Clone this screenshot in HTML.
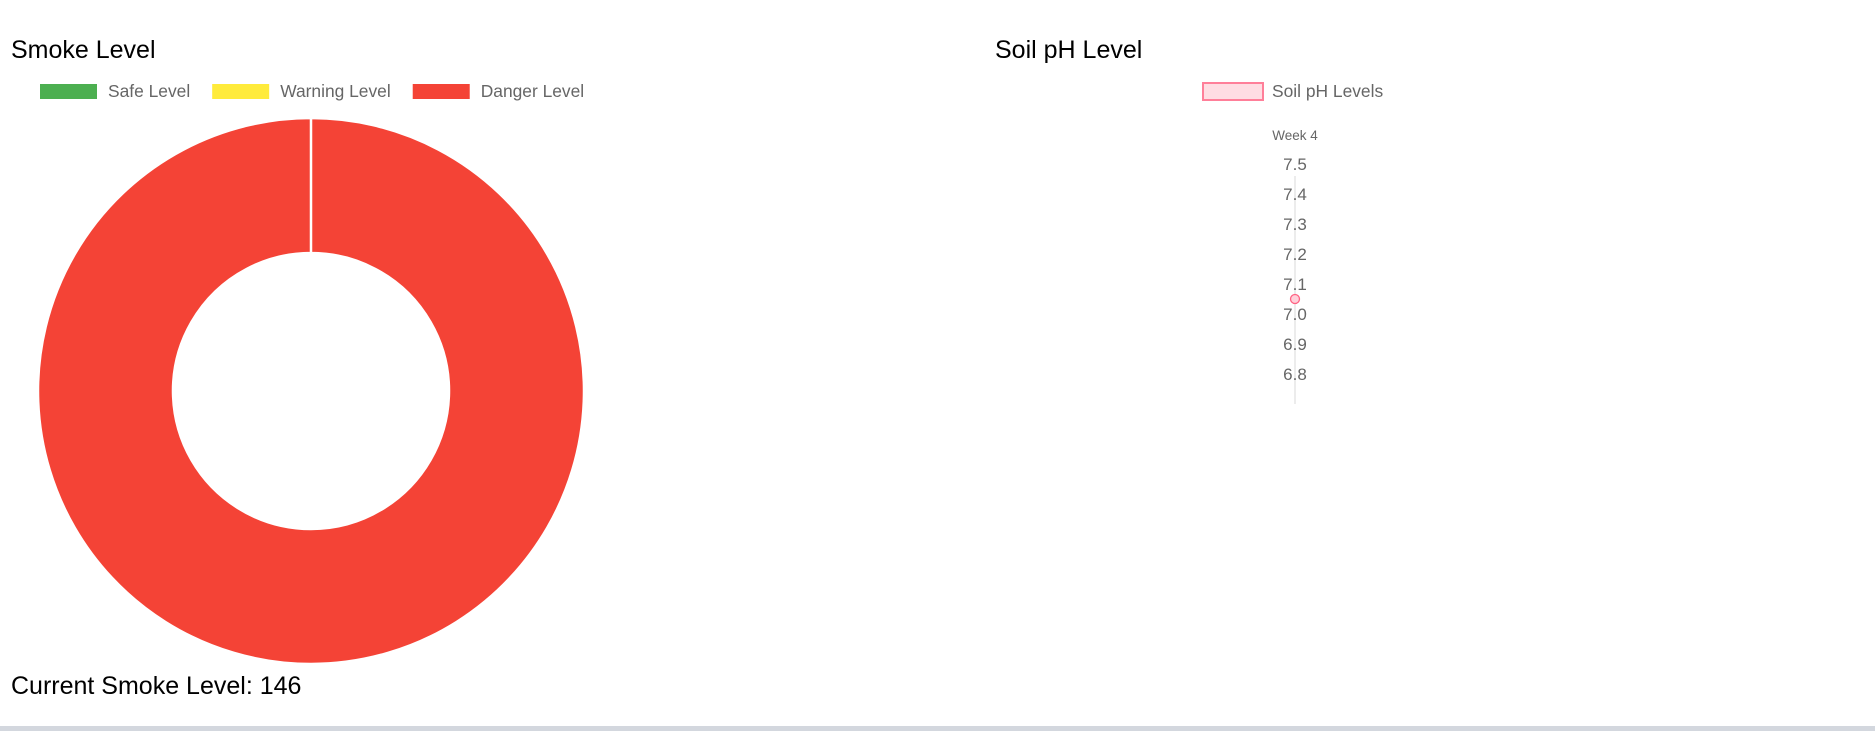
<!DOCTYPE html>
<html><head><meta charset="utf-8"><style>
body{margin:0;width:1875px;height:731px;background:#fff;font-family:"Liberation Sans",Arial,sans-serif;position:relative;overflow:hidden}
.t{position:absolute;color:#000;font-size:25px}
</style></head><body>
<div class="t" style="left:11px;top:36px">Smoke Level</div>
<div class="t" style="left:995px;top:36px">Soil pH Level</div>
<div class="t" style="left:11px;top:672px">Current Smoke Level: 146</div>
<div style="position:absolute;left:0;top:726px;width:1875px;height:5px;background:#d3d7de"></div>
<svg id="s" width="1875" height="731" style="position:absolute;left:0;top:0"></svg>
<script>
const smokeLabels=["Safe Level","Warning Level","Danger Level"];
const smokeColors=["#4caf50","#ffeb3b","#f44336"];
const smokeValues=[0,0,146];
const phLabels=["Week 4"];
const phValues=[7.05];
const phTicks=[7.5,7.4,7.3,7.2,7.1,7.0,6.9,6.8];
const NS="http://www.w3.org/2000/svg";
const svg=document.getElementById('s');
function mk(t,a,p){const e=document.createElementNS(NS,t);for(const k in a)e.setAttribute(k,a[k]);(p||svg).appendChild(e);return e;}
let lx=40;
smokeLabels.forEach((l,i)=>{
 const g=mk('g',{});
 
 
 mk('rect',{x:lx,y:84,width:57,height:15,fill:smokeColors[i]},g);
 const t=mk('text',{x:lx+68,y:97,'font-size':17.4,fill:'#666'},g);t.textContent=l;
 lx+=68+t.getComputedTextLength()+22;
});
const cx=311,cy=391,R=273,r=138;
const tot=smokeValues.reduce((a,b)=>a+b,0);
let ang=-Math.PI/2;
smokeValues.forEach((v,i)=>{
 if(v<=0)return;
 const a2=ang+v/tot*2*Math.PI;
 let p;
 if(v===tot){
  p=`M${cx},${cy-R}A${R},${R} 0 1 1 ${cx-0.01},${cy-R}L${cx-0.01},${cy-r}A${r},${r} 0 1 0 ${cx},${cy-r}Z`;
 }else{
  const lg=a2-ang>Math.PI?1:0;
  const P=(rr,a)=>[cx+rr*Math.cos(a),cy+rr*Math.sin(a)];
  const [x1,y1]=P(R,ang),[x2,y2]=P(R,a2),[x3,y3]=P(r,a2),[x4,y4]=P(r,ang);
  p=`M${x1},${y1}A${R},${R} 0 ${lg} 1 ${x2},${y2}L${x3},${y3}A${r},${r} 0 ${lg} 0 ${x4},${y4}Z`;
 }
 const e=mk('path',{d:p,fill:smokeColors[i],stroke:'#fff','stroke-width':2.5});
 
 
 ang=a2;
});
const lg=mk('g',{});


mk('rect',{x:1203,y:83,width:60,height:17,fill:'#ffdde3',stroke:'#ff7f99','stroke-width':2},lg);
const lt=mk('text',{x:1272,y:97,'font-size':17.4,fill:'#666'},lg);lt.textContent='Soil pH Levels';
const ax=1295;
const yS=v=>164+(7.5-v)*300;
const axl=mk('line',{x1:ax,y1:176,x2:ax,y2:404,stroke:'#e6e6e6','stroke-width':1.5});


const wk=mk('text',{x:ax,y:140,'font-size':13.5,fill:'#666','text-anchor':'middle'});wk.textContent=phLabels[0];


phTicks.forEach(v=>{
 const t=mk('text',{x:ax,y:yS(v)+6,'font-size':17,fill:'#666','text-anchor':'middle'});
 t.textContent=v.toFixed(1);
 
 
});
phValues.forEach((v,i)=>{
 const c=mk('circle',{cx:ax,cy:yS(v),r:4.5,fill:'#ffd0da',stroke:'#ff6384','stroke-width':1.3});
 
 
});
</script>
</body></html>
